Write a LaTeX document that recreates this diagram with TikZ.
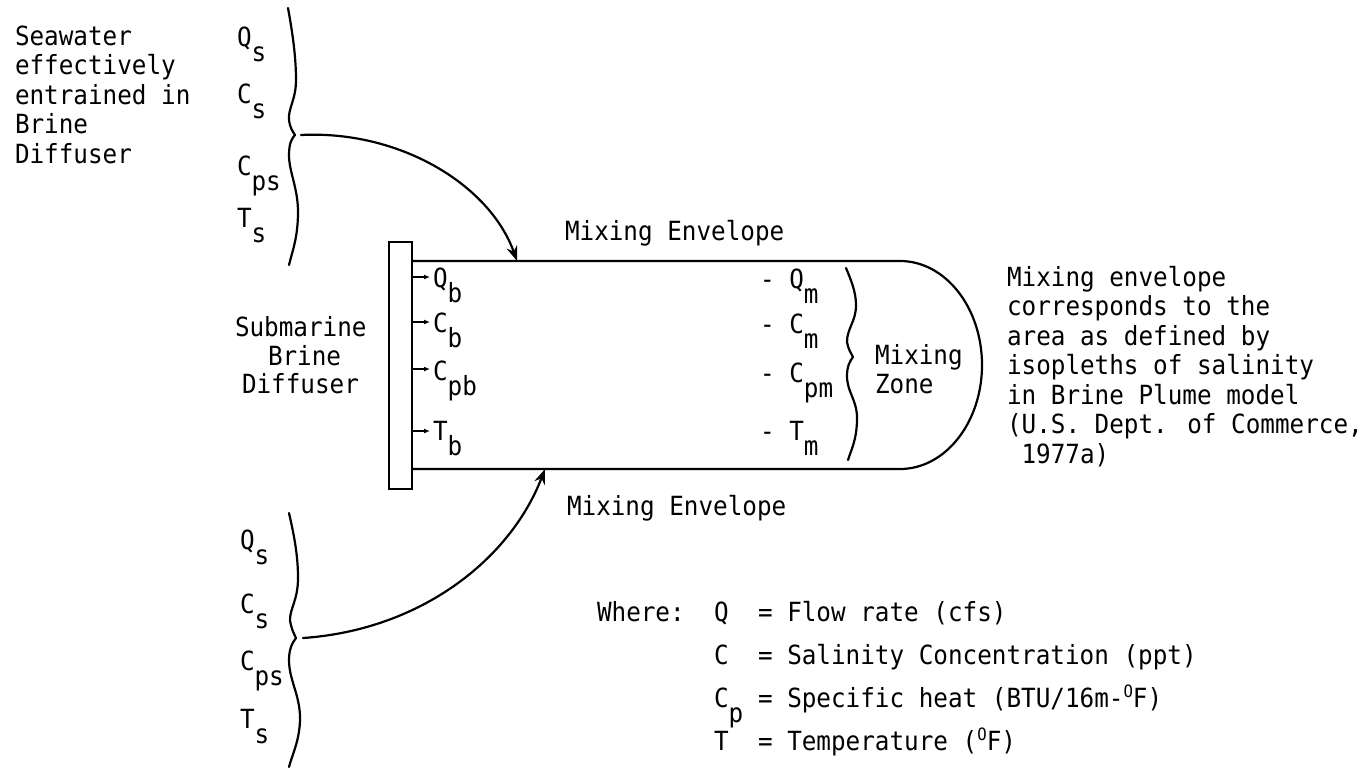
\documentclass[tikz,border=0pt]{standalone}
\usepackage{fontspec}
\newfontfamily\mono{DejaVu Sans Mono}[FakeStretch=0.92]
\usetikzlibrary{arrows.meta}
\newcommand\dn[1]{\raisebox{-15pt}{#1}}
\newcommand\upo{\raisebox{10pt}{\fontsize{17}{17}\selectfont O}}
\begin{document}
\begin{tikzpicture}[x=1pt,y=-1pt,
  txt/.style={anchor=base west, inner sep=0pt, outer sep=0pt, font=\mono\fontsize{26.4}{30}\selectfont},
  ln/.style={line width=2.2pt, line cap=round, line join=round},
  bigarrow/.style={ln, -{Stealth[length=15pt,width=11pt,inset=5pt]}},
  smallarrow/.style={line width=1.4pt, -{Latex[length=6pt,width=5pt]}}]
\fill[white] (0,0) rectangle (1367,779);
\useasboundingbox (0,0) rectangle (1367,779);

% seawater description
\node[txt] (sw1) at (15,45) {Seawater};
\node[txt] (sw2) at (15,74.5) {effectively};
\node[txt] (sw3) at (15,104) {entrained in};
\node[txt] (sw4) at (15,133.5) {Brine};
\node[txt] (sw5) at (15,163) {Diffuser};

% top seawater group
\node[txt] (Qs1) at (237,46) {Q\dn{s}};
\node[txt] (Cs1) at (237,103) {C\dn{s}};
\node[txt] (Cps1) at (237,175) {C\dn{ps}};
\node[txt] (Ts1) at (237,227) {T\dn{s}};
\draw[ln] (288,8) .. controls (292,30) and (296,55) .. (296,80)
  .. controls (296,100) and (288,108) .. (289,120)
  .. controls (290,128) and (293,132) .. (295,135)
  .. controls (292,138) and (289,143) .. (289,155)
  .. controls (289,172) and (298,188) .. (298,212)
  .. controls (298,238) and (292,252) .. (289,265);
\coordinate (a1s) at (301,135);

% bottom seawater group
\node[txt] (Qs2) at (240,549) {Q\dn{s}};
\node[txt] (Cs2) at (240,613) {C\dn{s}};
\node[txt] (Cps2) at (240,670) {C\dn{ps}};
\node[txt] (Ts2) at (240,728) {T\dn{s}};
\draw[ln] (289,513) .. controls (294,535) and (298,555) .. (298,578)
  .. controls (298,600) and (290,608) .. (290,620)
  .. controls (291,628) and (294,634) .. (296,638)
  .. controls (293,642) and (289,648) .. (289,660)
  .. controls (289,680) and (300,695) .. (300,718)
  .. controls (300,740) and (292,755) .. (289,767);
\coordinate (a2s) at (303,638);

% submarine brine diffuser
\node[txt] (sub1) at (235,336) {Submarine};
\node[txt] (sub2) at (268,365) {Brine};
\node[txt] (sub3) at (242,393) {Diffuser};
\node[draw, line width=2.2pt, minimum width=23pt, minimum height=247pt, inner sep=0pt] (diff) at (400.5,365.5) {};

% mixing envelope
\coordinate (tip1) at (517,261);
\coordinate (tip2) at (545,469);
\draw[ln] (diff.east |- tip1) -- (900,261)
  .. controls (945.3,261) and (982,307.6) .. (982,365)
  .. controls (982,422.4) and (945.3,469) .. (900,469) -- (diff.east |- tip2);
\node[txt] (env1) at (565,240) {Mixing Envelope};
\node[txt] (env2) at (567,515) {Mixing Envelope};

\draw[bigarrow] (a1s) .. controls (400,130) and (490,185) .. (tip1);
\draw[bigarrow] (a2s) .. controls (420,630) and (510,560) .. (tip2);

% brine inputs
\node[txt] (Qb) at (433,287) {Q\dn{b}};
\node[txt] (Cb) at (433,332) {C\dn{b}};
\node[txt] (Cpb) at (433,380) {C\dn{pb}};
\node[txt] (Tb) at (433,440) {T\dn{b}};
\coordinate (qbp) at (430,277);
\coordinate (cbp) at (430,322);
\coordinate (cpbp) at (430,369);
\coordinate (tbp) at (430,431);
\draw[smallarrow] (diff.east |- qbp) -- (qbp);
\draw[smallarrow] (diff.east |- cbp) -- (cbp);
\draw[smallarrow] (diff.east |- cpbp) -- (cpbp);
\draw[smallarrow] (diff.east |- tbp) -- (tbp);

% mixing outputs
\node[txt] (Qm) at (760,288) {- Q\dn{m}};
\node[txt] (Cm) at (760,333) {- C\dn{m}};
\node[txt] (Cpm) at (760,382) {- C\dn{pm}};
\node[txt] (Tm) at (760,440) {- T\dn{m}};
\draw[ln] (846,268) .. controls (851,280) and (856,292) .. (856,305)
  .. controls (856,322) and (847,328) .. (847,342)
  .. controls (848,349) and (851,353) .. (853,357)
  .. controls (850,361) and (847,366) .. (847,376)
  .. controls (847,392) and (857,400) .. (857,418)
  .. controls (857,440) and (851,450) .. (848,460);
\node[txt] (mz1) at (875,364) {Mixing};
\node[txt] (mz2) at (875,393) {Zone};

% right note
\node[txt] (n1) at (1007,286) {Mixing envelope};
\node[txt] (n2) at (1007,315.5) {corresponds to the};
\node[txt] (n3) at (1007,345) {area as defined by};
\node[txt] (n4) at (1007,374.5) {isopleths of salinity};
\node[txt] (n5) at (1007,404) {in Brine Plume model};
\node[txt] (n6) at (1007,433.5) {(U.S. Dept. of Commerce,};
\node[txt] (n7) at (1021.6,463) {1977a)};

% legend
\node[txt] (where) at (597,621) {Where:};
\node[txt] (lq) at (714,621) {Q};
\node[txt] (lc) at (714,664) {C};
\node[txt] (lcp) at (714,707) {C\dn{p}};
\node[txt] (lt) at (714,750) {T};
\node[txt] (dq) at (758,621) {= Flow rate (cfs)};
\node[txt] (dc) at (758,664) {= Salinity Concentration (ppt)};
\node[txt] (dcp) at (758,707) {= Specific heat (BTU/16m-\upo F)};
\node[txt] (dt) at (758,750) {= Temperature (\upo F)};
\end{tikzpicture}
\end{document}
